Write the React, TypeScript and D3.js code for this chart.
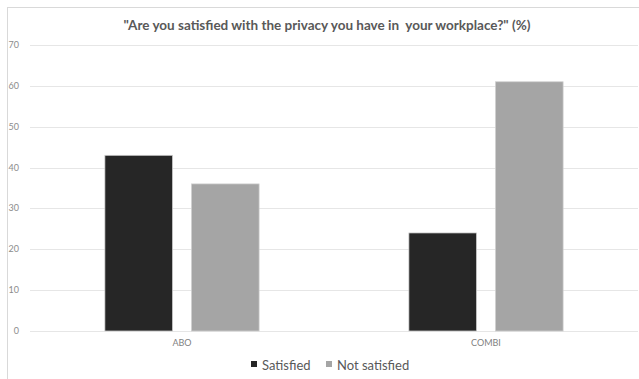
import React from "react";
import * as d3 from "d3";

const categories = ["ABO", "COMBI"];
const seriesNames = ["Satisfied", "Not satisfied"];
const satisfied = [43, 24];
const notSatisfied = [36, 61];
const yTicks = [0, 10, 20, 30, 40, 50, 60, 70];
const title = "\"Are you satisfied with the privacy you have in  your workplace?\" (%)";

const colors = ["#262626", "#a5a5a5"];
const font = "Lato, 'Open Sans', sans-serif";

export default function App() {
  const W = 639, H = 379;
  const plot = { left: 30, right: 638, top: 45, bottom: 331 };
  const x = d3.scaleBand<string>().domain(categories).range([plot.left, plot.right]).padding(0);
  const xs = d3.scaleBand<string>().domain(seriesNames).range([0, x.bandwidth()])
    .paddingInner(0.219).paddingOuter(0.865);
  const y = d3.scaleLinear().domain([0, 70]).range([plot.bottom, plot.top]);
  const values = [satisfied, notSatisfied];

  return (
    <svg width={W} height={H} style={{ position: "absolute", left: 0, top: 0, background: "#fff" }}>
      <rect x={0} y={0} width={W} height={H} fill="#fff" />
      <line x1={7} x2={W} y1={7.5} y2={7.5} stroke="#d9d9d9" />
      <line x1={7.5} x2={7.5} y1={7} y2={H} stroke="#d9d9d9" />
      <text x={327} y={30} textAnchor="middle" fontFamily={font} fontWeight="bold" fontSize={13.5} fill="#595959"
        style={{ whiteSpace: "pre" }}>{title}</text>
      {yTicks.map((t) => (
        <g key={t}>
          <line x1={plot.left} x2={plot.right} y1={Math.round(y(t)) + 0.5} y2={Math.round(y(t)) + 0.5} stroke="#e6e6e6" />
          <text x={19} y={y(t) + 3} textAnchor="end" fontFamily={font} fontSize={9} fill="#8c8c8c">{t}</text>
        </g>
      ))}
      {categories.map((c, ci) =>
        seriesNames.map((s, si) => (
          <rect key={c + s} x={(x(c) ?? 0) + (xs(s) ?? 0)} y={y(values[si][ci])}
            width={xs.bandwidth()} height={y(0) - y(values[si][ci])}
            fill={colors[si]} stroke="#d0d0d0" strokeWidth={0.75} />
        ))
      )}
      {categories.map((c) => (
        <text key={c} x={(x(c) ?? 0) + x.bandwidth() / 2} y={346} textAnchor="middle" fontFamily={font}
          fontSize={9} fill="#7f7f7f">{c}</text>
      ))}
      <g>
        <rect x={251} y={361} width={6} height={6} fill={colors[0]} />
        <text x={262} y={370} fontFamily={font} fontSize={13} fill="#595959">{seriesNames[0]}</text>
        <rect x={326} y={361} width={6} height={6} fill={colors[1]} />
        <text x={337} y={370} fontFamily={font} fontSize={13} fill="#595959">{seriesNames[1]}</text>
      </g>
    </svg>
  );
}
